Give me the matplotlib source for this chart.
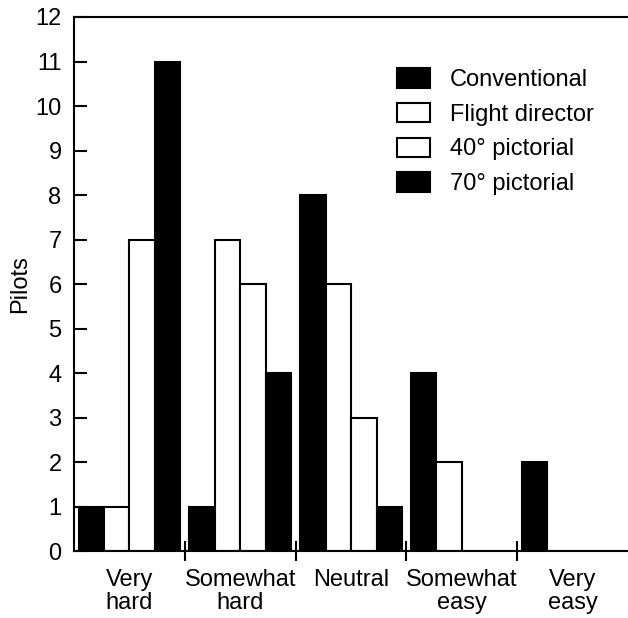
import matplotlib
matplotlib.use("Agg")
import matplotlib.pyplot as plt
import numpy as np

categories = ["Very\nhard", "Somewhat\nhard", "Neutral", "Somewhat\neasy", "Very\neasy"]
series_names = ["Conventional", "Flight director", "40° pictorial", "70° pictorial"]
conventional = [1, 1, 8, 4, 2]
flight_director = [1, 7, 6, 2, 0]
pictorial_40 = [7, 6, 3, 0, 0]
pictorial_70 = [11, 4, 1, 0, 0]
y_ticks = list(range(0, 13))

series = [conventional, flight_director, pictorial_40, pictorial_70]
colors = ["black", "white", "white", "black"]

plt.rcParams['font.family'] = ['Liberation Sans', 'DejaVu Sans']
fs = 17

fig = plt.figure(figsize=(6.28, 6.18), dpi=100)
ax = fig.add_axes([0.118, 0.108, 0.882, 0.8645])

x = np.arange(len(categories))
w = 0.23
offsets = [-1.5 * w, -0.5 * w, 0.5 * w, 1.5 * w]
for vals, col, off, name in zip(series, colors, offsets, series_names):
    ax.bar(x + off, vals, width=w, color=col, edgecolor="black", linewidth=1.5, label=name)

ax.set_xlim(-0.5, len(categories) - 0.5)
ax.set_ylim(0, 12)
ax.set_yticks(y_ticks)
ax.set_yticklabels([str(t) for t in y_ticks], fontsize=fs)
ax.tick_params(axis='y', direction='in', length=9, width=1.5, pad=9)
ax.set_xticks(x)
ax.set_xticklabels(categories, fontsize=fs, linespacing=1.05)
ax.tick_params(axis='x', which='major', length=0, pad=13)
ax.set_xticks(np.arange(0.5, len(categories) - 0.5, 1), minor=True)
ax.tick_params(axis='x', which='minor', direction='inout', length=14, width=1.5)

ax.spines['right'].set_visible(False)
for s in ['left', 'bottom', 'top']:
    ax.spines[s].set_linewidth(1.5)

ax.set_ylabel("Pilots", fontsize=fs, labelpad=3)

leg = ax.legend(loc='upper left', bbox_to_anchor=(397 / 628, 1 - 68 / 618),
                bbox_transform=fig.transFigure, frameon=False, fontsize=fs,
                handlelength=1.4, handleheight=0.9, labelspacing=0.5,
                handletextpad=0.85, borderpad=0, borderaxespad=0)

fig.savefig("out.png", dpi=100)
